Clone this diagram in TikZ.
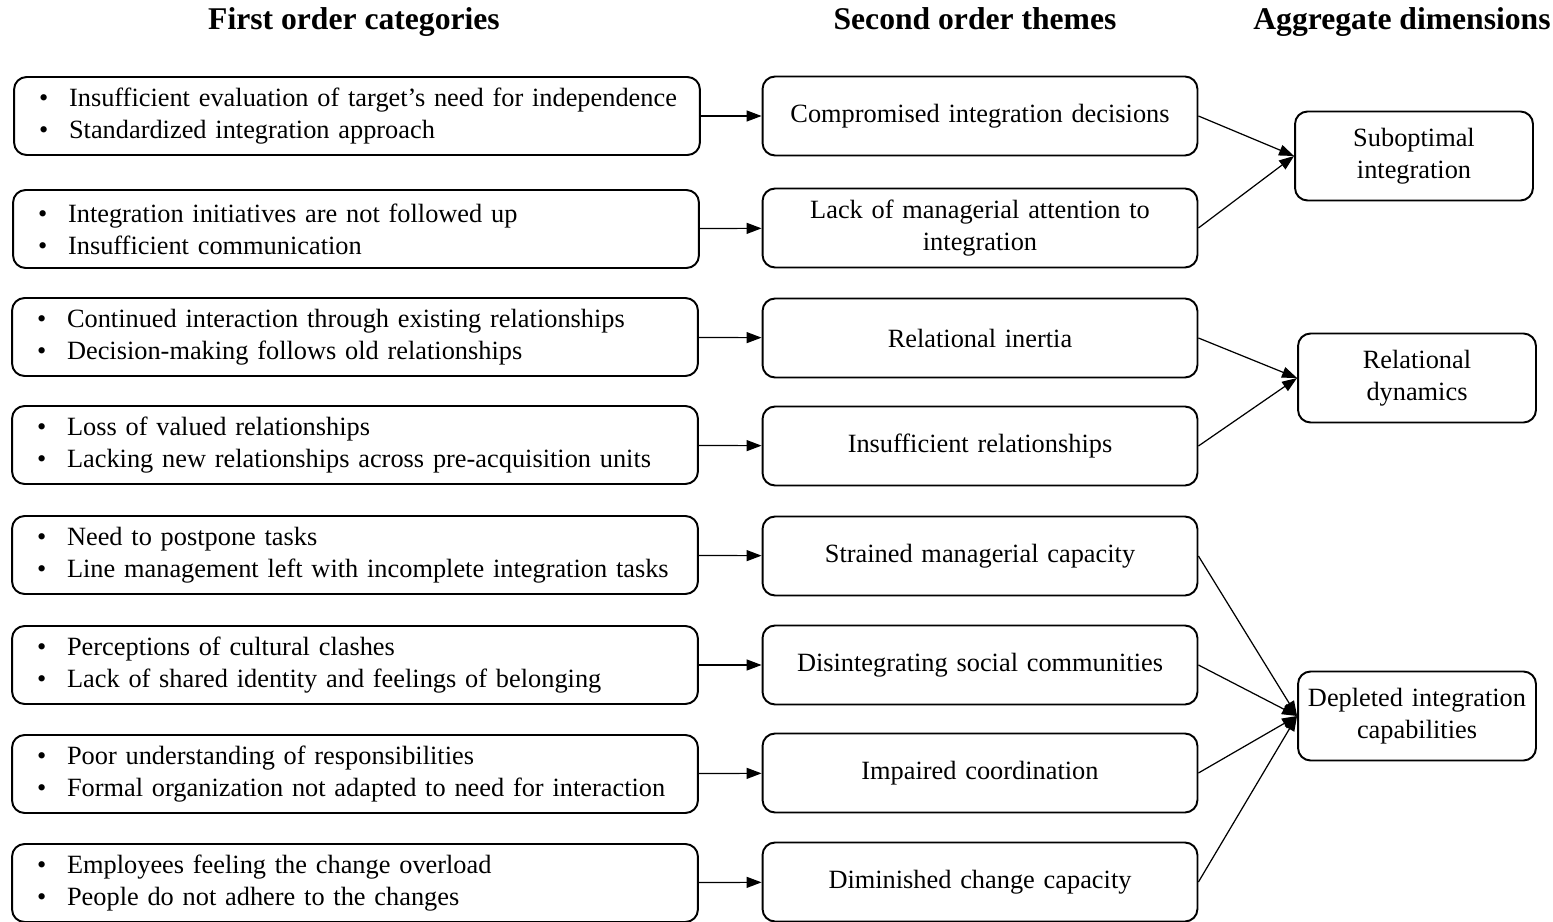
\documentclass[tikz,border=0pt]{standalone}
\usepackage{fontspec}
\setmainfont{Liberation Serif}
\usepackage{xcolor}
\usepackage{tikz}
\usetikzlibrary{arrows.meta,positioning}

\begin{document}
\begin{tikzpicture}[
    x=0.02cm, y=-0.02cm,
    head/.style={anchor=base, font=\fontsize{18}{22}\selectfont\bfseries},
    catbox/.style={rectangle, draw, line width=1.1pt, rounded corners=0.25cm, minimum width=13.72cm, minimum height=1.56cm, text width=12.9cm, inner xsep=0.41cm, align=left, font=\fontsize{15}{18.2}\selectfont},
    themebox/.style={rectangle, draw, line width=1.1pt, rounded corners=0.25cm, minimum width=8.7cm, minimum height=1.58cm, text width=8.3cm, align=center, font=\fontsize{15}{18.2}\selectfont},
    dimbox/.style={rectangle, draw, line width=1.1pt, rounded corners=0.25cm, minimum width=4.76cm, minimum height=1.78cm, text width=4.7cm, inner xsep=0.03cm, align=center, font=\fontsize{15}{18.2}\selectfont},
    link/.style={-{Triangle[length=0.3cm,width=0.22cm]}, line width=0.7pt}
]
    \useasboundingbox (0,0) rectangle (1553,922);

    % Column headings
    \node[head] (h1) at (354,30) {First order categories};
    \node[head] (h2) at (975,30) {Second order themes};
    \node[head] (h3) at (1402,30) {Aggregate dimensions};

    % First order categories
    \node[catbox] (evaluation) at (357,116) {\makebox[0.69cm][l]{\hspace{0.09cm}\textbullet}Insufficient evaluation of target’s need for independence\\\makebox[0.69cm][l]{\hspace{0.09cm}\textbullet}Standardized integration approach};
    \node[catbox] (followup) at (356,229) {\makebox[0.69cm][l]{\hspace{0.09cm}\textbullet}Integration initiatives are not followed up\\\makebox[0.69cm][l]{\hspace{0.09cm}\textbullet}Insufficient communication};
    \node[catbox] (existing) at (355,337) {\makebox[0.69cm][l]{\hspace{0.09cm}\textbullet}Continued interaction through existing relationships\\\makebox[0.69cm][l]{\hspace{0.09cm}\textbullet}Decision-making follows old relationships};
    \node[catbox] (loss) at (355,445) {\makebox[0.69cm][l]{\hspace{0.09cm}\textbullet}Loss of valued relationships\\\makebox[0.69cm][l]{\hspace{0.09cm}\textbullet}Lacking new relationships across pre-acquisition units};
    \node[catbox] (postpone) at (355,555) {\makebox[0.69cm][l]{\hspace{0.09cm}\textbullet}Need to postpone tasks\\\makebox[0.69cm][l]{\hspace{0.09cm}\textbullet}Line management left with incomplete integration tasks};
    \node[catbox] (clashes) at (355,665) {\makebox[0.69cm][l]{\hspace{0.09cm}\textbullet}Perceptions of cultural clashes\\\makebox[0.69cm][l]{\hspace{0.09cm}\textbullet}Lack of shared identity and feelings of belonging};
    \node[catbox] (responsib) at (355,774) {\makebox[0.69cm][l]{\hspace{0.09cm}\textbullet}Poor understanding of responsibilities\\\makebox[0.69cm][l]{\hspace{0.09cm}\textbullet}Formal organization not adapted to need for interaction};
    \node[catbox] (overload) at (355,883) {\makebox[0.69cm][l]{\hspace{0.09cm}\textbullet}Employees feeling the change overload\\\makebox[0.69cm][l]{\hspace{0.09cm}\textbullet}People do not adhere to the changes};

    % Second order themes
    \node[themebox] (compromised) at (980,116) {Compromised integration decisions};
    \node[themebox] (attention) at (980,228) {Lack of managerial attention to\\integration};
    \node[themebox] (inertia) at (980,338) {Relational inertia};
    \node[themebox] (insuff) at (980,446) {Insufficient relationships};
    \node[themebox] (strained) at (980,556) {Strained managerial capacity};
    \node[themebox] (social) at (980,665) {Disintegrating social communities};
    \node[themebox] (coord) at (980,773) {Impaired coordination};
    \node[themebox] (change) at (980,882) {Diminished change capacity};

    % Aggregate dimensions
    \node[dimbox] (subopt) at (1414,156) {Suboptimal\\integration};
    \node[dimbox] (relational) at (1417,378) {Relational\\dynamics};
    \node[dimbox] (depleted) at (1417,716) {Depleted integration\\capabilities};

    % Categories to themes
    \draw[link] (evaluation) -- (compromised);
    \draw[link] (followup) -- (attention);
    \draw[link] (existing) -- (inertia);
    \draw[link] (loss) -- (insuff);
    \draw[link] (postpone) -- (strained);
    \draw[link] (clashes) -- (social);
    \draw[link] (responsib) -- (coord);
    \draw[link] (overload) -- (change);

    % Themes to dimensions
    \draw[link] (compromised.east) -- (subopt.west);
    \draw[link] (attention.east) -- (subopt.west);
    \draw[link] (inertia.east) -- (relational.west);
    \draw[link] (insuff.east) -- (relational.west);
    \draw[link] (strained.east) -- (depleted.west);
    \draw[link] (social.east) -- (depleted.west);
    \draw[link] (coord.east) -- (depleted.west);
    \draw[link] (change.east) -- (depleted.west);
\end{tikzpicture}
\end{document}
